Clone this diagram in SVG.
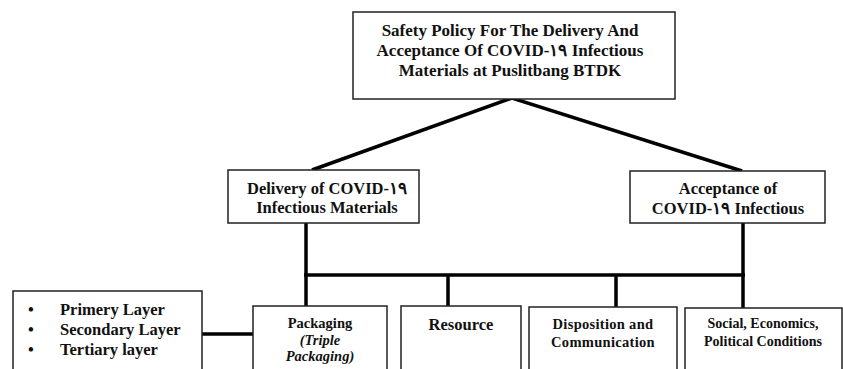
<svg xmlns="http://www.w3.org/2000/svg" width="843" height="369" viewBox="0 0 843 369" font-family="Liberation Serif">
<style>
.box{fill:#fff;stroke:#222;stroke-width:1.5}
.t{text-anchor:middle;font-weight:bold;fill:#111}
.l{font-weight:bold;fill:#111}
.c{stroke:#000;stroke-width:3.5;fill:none}
</style>
<rect width="843" height="369" fill="#fff"/>
<g id="connectors">
<path class="c" d="M312,170 L512,98 L742,171"/>
<path class="c" d="M306,223 V306"/>
<path class="c" d="M743,223 V308"/>
<path class="c" d="M304,275 H745"/>
<path class="c" d="M448,275 V306"/>
<path class="c" d="M616,275 V308"/>
<path class="c" d="M202,334 H253"/>
</g>
<g id="top">
<rect class="box" x="353" y="12" width="322" height="87"/>
<text class="t" font-family="Liberation Serif" font-size="17" x="510" y="36">Safety Policy For The Delivery And</text>
<text class="t" font-family="Liberation Serif" font-size="17" x="510" y="56">Acceptance Of COVID-١٩ Infectious</text>
<text class="t" font-family="Liberation Serif" font-size="17" x="510" y="76">Materials at Puslitbang BTDK</text>
</g>
<g id="delivery">
<rect class="box" x="228" y="170" width="191" height="53"/>
<text class="t" font-family="Liberation Serif" font-size="16.5" x="327" y="194">Delivery of COVID-١٩</text>
<text class="t" font-family="Liberation Serif" font-size="16.5" x="327" y="213">Infectious Materials</text>
</g>
<g id="acceptance">
<rect class="box" x="630" y="171" width="195" height="52"/>
<text class="t" font-family="Liberation Serif" font-size="16.5" x="728" y="194">Acceptance of</text>
<text class="t" font-family="Liberation Serif" font-size="16.5" x="728" y="214">COVID-١٩ Infectious</text>
</g>
<g id="layers">
<rect class="box" x="13" y="291" width="189" height="100"/>
<text class="l" font-family="Liberation Serif" font-size="16.5" x="28" y="315">•</text>
<text class="l" font-family="Liberation Serif" font-size="16.5" x="28" y="335">•</text>
<text class="l" font-family="Liberation Serif" font-size="16.5" x="28" y="355">•</text>
<text class="l" font-family="Liberation Serif" font-size="16.5" x="60" y="315">Primery Layer</text>
<text class="l" font-family="Liberation Serif" font-size="16.5" x="60" y="335">Secondary Layer</text>
<text class="l" font-family="Liberation Serif" font-size="16.5" x="60" y="355">Tertiary layer</text>
</g>
<g id="packaging">
<rect class="box" x="253" y="306" width="134" height="80"/>
<text class="t" font-family="Liberation Serif" font-size="14.5" x="320" y="328">Packaging</text>
<text class="t" font-family="Liberation Serif" font-size="14.5" font-style="italic" x="320" y="345">(Triple</text>
<text class="t" font-family="Liberation Serif" font-size="14.5" font-style="italic" x="320" y="361">Packaging)</text>
</g>
<g id="resource">
<rect class="box" x="401" y="306" width="120" height="80"/>
<text class="t" font-family="Liberation Serif" font-size="16.5" x="461" y="330">Resource</text>
</g>
<g id="disposition">
<rect class="box" x="529" y="307" width="148" height="80"/>
<text class="t" font-family="Liberation Serif" font-size="14.5" x="603" y="329" letter-spacing="0.3">Disposition and</text>
<text class="t" font-family="Liberation Serif" font-size="14.5" x="603" y="347" letter-spacing="0.3">Communication</text>
</g>
<g id="social">
<rect class="box" x="685" y="308" width="157" height="80"/>
<text class="t" font-family="Liberation Serif" font-size="14" x="763" y="328">Social, Economics,</text>
<text class="t" font-family="Liberation Serif" font-size="14" x="763" y="346">Political Conditions</text>
</g>
</svg>
